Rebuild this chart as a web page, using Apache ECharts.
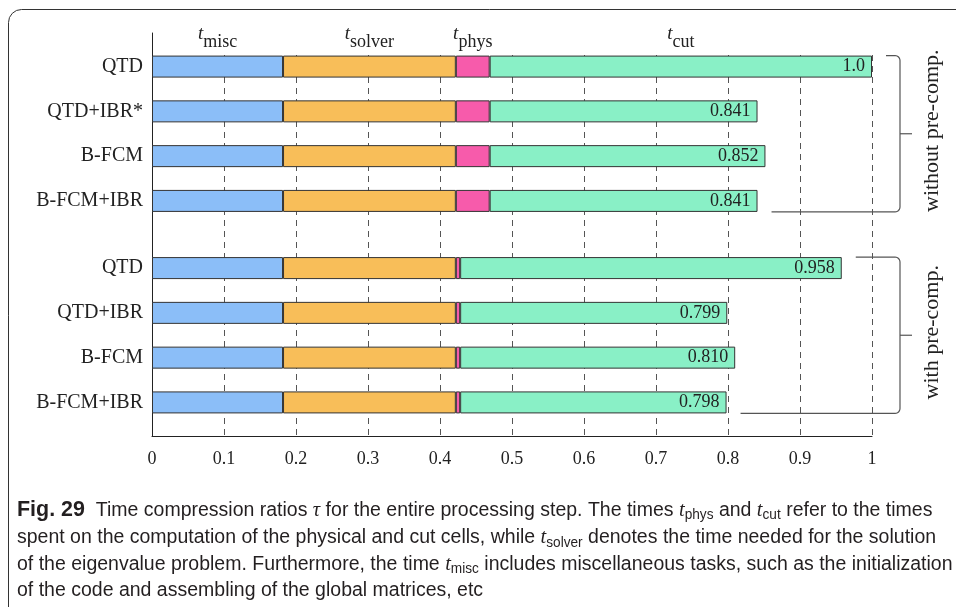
<!DOCTYPE html>
<html><head><meta charset="utf-8">
<script src="https://cdn.jsdelivr.net/npm/echarts@6/dist/echarts.min.js"></script>
<style>html,body{margin:0;padding:0;background:#fff}#c{width:956px;height:607px}</style>
</head><body><div id="c"></div>
<script>
// ---------------- data ----------------
const categories = ['QTD', 'QTD+IBR*', 'B-FCM', 'B-FCM+IBR', 'QTD', 'QTD+IBR', 'B-FCM', 'B-FCM+IBR'];
const groupOf = [0, 0, 0, 0, 1, 1, 1, 1];
const groupNames = ['without pre-comp.', 'with pre-comp.'];
const tMisc   = [0.182, 0.182, 0.182, 0.182, 0.182, 0.182, 0.182, 0.182];
const tSolver = [0.240, 0.240, 0.240, 0.240, 0.240, 0.240, 0.240, 0.240];
const tPhys   = [0.047, 0.047, 0.047, 0.047, 0.006, 0.006, 0.006, 0.006];
const tCut    = [0.531, 0.372, 0.383, 0.372, 0.530, 0.371, 0.382, 0.370];
const totals  = ['1.0', '0.841', '0.852', '0.841', '0.958', '0.799', '0.810', '0.798'];
const xTickLabels = ['0', '0.1', '0.2', '0.3', '0.4', '0.5', '0.6', '0.7', '0.8', '0.9', '1'];
const segNames = ['misc', 'solver', 'phys', 'cut'];
const captionLines = [
  '{b|Fig. 29}  Time compression ratios {i|τ} for the entire processing step. The times {i|t}{s|phys} and {i|t}{s|cut} refer to the times',
  'spent on the computation of the physical and cut cells, while {i|t}{s|solver} denotes the time needed for the solution',
  'of the eigenvalue problem. Furthermore, the time {i|t}{s|misc} includes miscellaneous tasks, such as the initialization',
  'of the code and assembling of the global matrices, etc'
];

// ---------------- layout ----------------
const segData = [tMisc, tSolver, tPhys, tCut];
const segColors = ['#8bbef8', '#f8be59', '#f75bab', '#89f0c6'];
const BAR_W = 22;
const nSlots = 18;
const slotOf = categories.map((c, i) => 1 + 2 * i + groupOf[i]);
const slotKeys = Array.from({length: nSlots}, (_, k) => 's' + k);
const slotLabel = {}; slotOf.forEach((s, i) => { slotLabel['s' + s] = categories[i]; });
const slotCat = {}; slotOf.forEach((s, i) => { slotCat[s] = i; });
function toSlots(arr) { const out = new Array(nSlots).fill('-'); slotOf.forEach((s, i) => { out[s] = arr[i]; }); return out; }
const serif = "'Liberation Serif', 'Times New Roman', serif";
const sans = "'Liberation Sans', Arial, sans-serif";

const chart = echarts.init(document.getElementById('c'));
chart.setOption({
  animation: false,
  backgroundColor: '#fff',
  grid: {left: 152, right: 84, top: 33, bottom: 171, containLabel: false},
  xAxis: {
    type: 'value', min: 0, max: 1, interval: 0.1,
    axisLine: {show: true, lineStyle: {color: '#222', width: 1}},
    axisTick: {show: false},
    axisLabel: {margin: 14, color: '#222', fontFamily: serif, fontSize: 18,
      formatter: v => xTickLabels[Math.round(v * 10)]},
    splitLine: {show: true, lineStyle: {color: '#555', width: 1, type: [6, 5]}}
  },
  yAxis: {
    type: 'category', inverse: true, data: slotKeys,
    axisLine: {show: true, lineStyle: {color: '#222', width: 1}},
    axisTick: {show: false},
    splitLine: {show: false},
    axisLabel: {interval: 0, margin: 9, color: '#222', fontFamily: serif, fontSize: 20,
      formatter: v => slotLabel[v] || ''}
  },
  series: segData.map((d, k) => ({
    type: 'bar', name: segNames[k], stack: 'total', barWidth: BAR_W,
    data: toSlots(d),
    itemStyle: {color: segColors[k], borderColor: '#333', borderWidth: 1},
    emphasis: {disabled: true},
    label: k === 3 ? {show: true, position: 'insideRight', distance: 7, color: '#222',
      fontFamily: serif, fontSize: 18, formatter: p => totals[slotCat[p.dataIndex]]} : {show: false}
  }))
});

// ---------------- annotations from the chart's own scales ----------------
const P = (x, slot) => chart.convertToPixel({gridIndex: 0}, [x, 's' + slot]);
const graphics = [];
graphics.push({type: 'rect', z: 6, silent: true,
  shape: {x: 8.5, y: 9.5, width: 1100, height: 800, r: 13},
  style: {fill: 'none', stroke: '#333', lineWidth: 1}});

// keep the grid lines below the first bar, as in the figure
const gTopLeft = P(0, 0);
const firstTop = P(0, slotOf[0])[1] - BAR_W / 2;
const gRight = P(1, 0)[0];
graphics.push({type: 'rect', z: 1, silent: true,
  shape: {x: gTopLeft[0] + 1, y: 12, width: gRight - gTopLeft[0] + 2, height: firstTop - 12.5},
  style: {fill: '#fff'}});

// header labels t_misc etc over first bar
let acc = 0;
segData.forEach((d, k) => {
  const mid = acc + d[0] / 2; acc += d[0];
  const p = P(mid, slotOf[0]);
  graphics.push({type: 'text', z: 5, x: p[0], y: p[1] - BAR_W / 2 - 22, silent: true,
    style: {text: '{t|t}{s|' + segNames[k] + '}', align: 'center', verticalAlign: 'middle',
      rich: {
        t: {fontFamily: serif, fontStyle: 'italic', fontSize: 19, lineHeight: 34, fill: '#222'},
        s: {fontFamily: serif, fontSize: 18, lineHeight: 34, padding: [17, 0, 0, 0], fill: '#222'}
      }}});
});

// group brackets
const totalOf = i => tMisc[i] + tSolver[i] + tPhys[i] + tCut[i];
function corner(cx, cy, r, a0, a1) {
  const pts = [];
  for (let j = 0; j <= 6; j++) { const a = a0 + (a1 - a0) * j / 6; pts.push([cx + r * Math.cos(a), cy + r * Math.sin(a)]); }
  return pts;
}
groupNames.forEach((name, g) => {
  const idx = categories.map((c, i) => i).filter(i => groupOf[i] === g);
  const f = idx[0], l = idx[idx.length - 1];
  const yTop = P(0, slotOf[f])[1] - BAR_W / 2;
  const yBot = P(0, slotOf[l])[1] + BAR_W / 2;
  const x1 = P(totalOf(f), slotOf[f])[0] + 14;
  const x2 = P(totalOf(l), slotOf[l])[0] + 14;
  const bx = P(1, slotOf[f])[0] + 28;
  const r = 5, mid = (yTop + yBot) / 2;
  const pts = [[x1, yTop]]
    .concat(corner(bx - r, yTop + r, r, -Math.PI / 2, 0))
    .concat(corner(bx - r, yBot - r, r, 0, Math.PI / 2))
    .concat([[x2, yBot]]);
  graphics.push({type: 'polyline', z: 5, silent: true, shape: {points: pts},
    style: {fill: null, stroke: '#555', lineWidth: 1.2}});
  graphics.push({type: 'line', z: 5, silent: true, shape: {x1: bx, y1: mid, x2: bx + 12, y2: mid},
    style: {stroke: '#555', lineWidth: 1.2}});
  graphics.push({type: 'text', z: 5, x: bx + 32, y: mid - 3, rotation: Math.PI / 2, silent: true,
    style: {text: name, align: 'center', verticalAlign: 'middle', fontFamily: serif, fontSize: 22, fill: '#222'}});
});

// caption
const capY = [510, 537.5, 564, 590.5];
captionLines.forEach((line, n) => {
  graphics.push({type: 'text', z: 5, x: 17, y: capY[n], scaleX: 0.975, silent: true,
    style: {text: line, align: 'left', verticalAlign: 'middle', fontFamily: sans, fontSize: 20,
      lineHeight: 28, fill: '#231f20',
      rich: {
        b: {fontFamily: sans, fontWeight: 'bold', fontSize: 22, lineHeight: 28, fill: '#231f20'},
        i: {fontFamily: serif, fontStyle: 'italic', fontSize: 21, lineHeight: 28, fill: '#231f20'},
        s: {fontFamily: sans, fontSize: 14, lineHeight: 28, padding: [11, 0, 0, 0], fill: '#231f20'}
      }}});
});
chart.setOption({graphic: graphics});
</script>
</body></html>
